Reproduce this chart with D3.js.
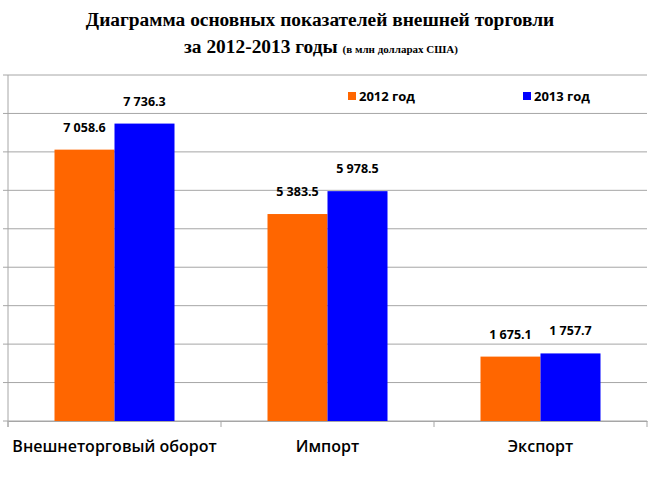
<!DOCTYPE html>
<html>
<head>
<meta charset="utf-8">
<script src="https://cdn.jsdelivr.net/npm/d3@7"></script>
<style>
  body { margin: 0; background: #fff; }
  .title { font-family: "Liberation Serif", "Times New Roman", serif; font-weight: bold; fill: #000; }
  .lbl { font-family: "Open Sans", sans-serif; font-weight: 600; fill: #000; }
</style>
</head>
<body>
<div id="chart"></div>
<script>
let categories = ["Внешнеторговый оборот", "Импорт", "Экспорт"];
let years = ["2012 год", "2013 год"];
let values2012 = [7058.6, 5383.5, 1675.1];
let values2013 = [7736.3, 5978.5, 1757.7];
let yTicks = [0, 1000, 2000, 3000, 4000, 5000, 6000, 7000, 8000, 9000];
let colors = ["#ff6600", "#0000ff"];

let svgWidth = 657;
let svgHeight = 482;

let svg = d3.select("#chart")
    .append("svg")
    .attr("width", svgWidth)
    .attr("height", svgHeight);

// title
svg.append("text")
    .attr("class", "title")
    .attr("x", 320)
    .attr("y", 26)
    .attr("text-anchor", "middle")
    .style("font-size", "19.4px")
    .text("Диаграмма основных показателей внешней торговли");

let t2 = svg.append("text")
    .attr("class", "title")
    .attr("x", 321)
    .attr("y", 53)
    .attr("text-anchor", "middle")
    .style("font-size", "19.4px");
t2.append("tspan").text("за 2012-2013 годы ");
t2.append("tspan").style("font-size", "11px").text("(в млн долларах США)");

let data = categories.map((c, i) => ({ cat: c, vals: [values2012[i], values2013[i]] }));

let xScale = d3.scaleBand()
    .domain(categories)
    .range([8, 647]);

let xSub = d3.scaleBand()
    .domain(years)
    .range([0, xScale.bandwidth()])
    .paddingOuter(0.775);

let yScale = d3.scaleLinear()
    .domain([0, 9000])
    .range([421, 75]);

// gridlines
svg.append("g")
    .selectAll("line")
    .data(yTicks)
    .enter()
    .append("line")
    .attr("x1", 3)
    .attr("x2", 647)
    .attr("y1", d => yScale(d))
    .attr("y2", d => yScale(d))
    .attr("stroke", "#a6a6a6")
    .attr("stroke-width", 1);

// left axis line
svg.append("line")
    .attr("x1", 8).attr("x2", 8)
    .attr("y1", yScale(9000)).attr("y2", yScale(0) + 6)
    .attr("stroke", "#a6a6a6");

// bars
let groups = svg.selectAll(".grp")
    .data(data)
    .enter()
    .append("g")
    .attr("class", "grp")
    .attr("transform", d => `translate(${xScale(d.cat)},0)`);

groups.selectAll("rect")
    .data(d => d.vals.map((v, j) => ({ year: years[j], v: v, j: j })))
    .enter()
    .append("rect")
    .attr("x", d => xSub(d.year))
    .attr("y", d => yScale(d.v))
    .attr("width", xSub.bandwidth())
    .attr("height", d => yScale(0) - yScale(d.v))
    .attr("fill", d => colors[d.j]);

let fmt = v => d3.format(",.1f")(v).replace(",", " ");

groups.selectAll(".val")
    .data(d => d.vals.map((v, j) => ({ year: years[j], v: v, j: j })))
    .enter()
    .append("text")
    .attr("class", "lbl")
    .attr("x", d => xSub(d.year) + xSub.bandwidth() / 2)
    .attr("y", d => yScale(d.v) - 18)
    .attr("text-anchor", "middle")
    .style("font-size", "12.5px")
    .style("font-weight", "700")
    .text(d => fmt(d.v));

// bottom axis
let bottomAxis = d3.axisBottom(xScale).tickSize(0).tickPadding(0);
let xg = svg.append("g")
    .attr("transform", `translate(0, ${yScale(0)})`)
    .call(bottomAxis);
xg.select(".domain").attr("stroke", "#a6a6a6");
xg.selectAll("text")
    .attr("class", "lbl")
    .attr("y", 20)
    .style("font-size", "16px")
    .attr("fill", "#000");

// category separators
svg.append("g")
    .selectAll("line")
    .data(categories.concat(["end"]))
    .enter()
    .append("line")
    .attr("x1", (d, i) => i < categories.length ? xScale(d) : xScale.range()[1])
    .attr("x2", (d, i) => i < categories.length ? xScale(d) : xScale.range()[1])
    .attr("y1", yScale(0))
    .attr("y2", yScale(0) + 6)
    .attr("stroke", "#a6a6a6");

// legend
let legend = svg.append("g");
let legendX = [348, 523];
years.forEach((y, i) => {
    legend.append("rect")
        .attr("x", legendX[i])
        .attr("y", 92)
        .attr("width", 8)
        .attr("height", 8)
        .attr("fill", colors[i]);
    legend.append("text")
        .attr("class", "lbl")
        .attr("x", legendX[i] + 11)
        .attr("y", 101)
        .style("font-size", "13px")
        .style("font-weight", "700")
        .text(y);
});
</script>
</body>
</html>
